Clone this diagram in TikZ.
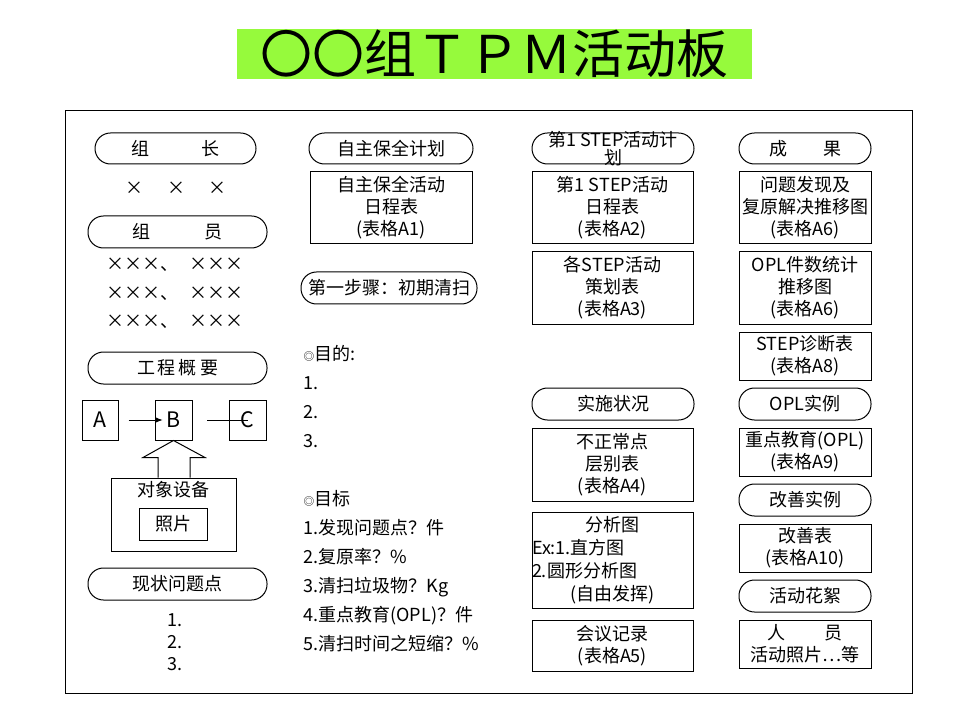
\documentclass[tikz,border=0pt]{standalone}
\usepackage{fontspec}
\usepackage{xcolor}
\usepackage{tikz}
\usetikzlibrary{arrows.meta, calc}
\newfontfamily\cjk{Noto Sans CJK SC}
\definecolor{boardgreen}{RGB}{150,250,60}

\begin{document}
\begin{tikzpicture}[x=0.75pt, y=-0.75pt, line width=0.75pt,
  every node/.style={font=\cjk\fontsize{13.5}{16.5}\selectfont, align=center},
  bw/.style={minimum width=#1*0.75pt}, bh/.style={minimum height=#1*0.75pt},
  pill/.style={draw, rounded corners=11.6pt, inner sep=0pt},
  sheet/.style={draw, inner sep=0pt}]
\useasboundingbox (0,0) rectangle (960,720);
\node[fill=boardgreen, bw=515, bh=50, inner sep=0pt, font=\cjk\fontsize{39}{42}\selectfont] (title) at (494.5,54) {〇〇组ＴＰＭ活动板};
\draw (65,111) rectangle (912,693);
% left column
\node[pill, bw=161, bh=31] (lead) at (175.5,148.5) {组\hspace{2.9em}长};
\node (leadname) at (176,188) {×\hspace{1.3em}×\hspace{1.3em}×};
\node[pill, bw=179, bh=32] (crew) at (177.5,232) {组\hspace{3em}员};
\foreach \i/\y in {1/265,2/294,3/322} {\node (crew\i) at (175,\y) {×××、\hspace{0.6em}×××};}
\node[pill, bw=179, bh=32] (proc) at (177.5,368) {工\,程\,概\,要};
\node[sheet, bw=36, bh=40] (A) at (100,420) {\fontsize{16}{18}\selectfont A};
\node[sheet, bw=37, bh=40] (B) at (173.5,420) {\fontsize{16}{18}\selectfont B};
\node[sheet, bw=37, bh=40] (C) at (247.5,420) {\fontsize{16}{18}\selectfont C};
\draw[-{Latex[length=5pt]}, shorten <=7.5pt, shorten >=8pt] (A.east) -- (B.center);
\draw[shorten <=11pt] (B.east) -- (C.center);
\node[sheet, bw=125, bh=73] (equip) at (173.5,514.5) {};
\node[anchor=north, inner sep=0pt] (equiptxt) at ($(equip.north)+(0,3)$) {对象设备};
\node[sheet, bw=68, bh=32] (photo) at (173,524) {照片};
\draw[fill=white] ($(equip.north)+(-15.5,0)$) -- ++(0,-20) -- ++(-15,0) -- (B.south) -- ($(equip.north)+(31.5,-20)$) -- ++(-15,0) -- ++(0,20);
\node[pill, bw=179, bh=32] (issue) at (177.5,584) {现状问题点};
\node[align=left, font=\cjk\fontsize{13.5}{16.5}\selectfont] (issuelist) at (175,642) {1.\\2.\\3.};
% second column
\node[pill, bw=164, bh=31] (selfplan) at (391,148.5) {自主保全计划};
\node[sheet, bw=162, bh=72] (tabA1) at (391,208) {自主保全活动\\日程表\\(表格A1)};
\node[pill, bw=176, bh=32] (step1) at (389,288) {第一步骤：初期清扫};
\node[anchor=north west, align=left, inner sep=0pt, font=\cjk\fontsize{13.5}{21.75}\selectfont] (goals) at (303,345)
  {{\fontsize{8}{8}\selectfont ◎}目的:\\1.\\2.\\3.\\[21.75pt]{\fontsize{8}{8}\selectfont ◎}目标\\1.发现问题点？件\\2.复原率？\%\\3.清扫垃圾物？Kg\\4.重点教育(OPL)？件\\5.清扫时间之短缩？\%};
% third column
\node[pill, bw=162, bh=31] (stepplan) at (613,148.5) {};
\node[font=\cjk\fontsize{13.5}{14}\selectfont] (stepplantxt) at (613,148.5) {第1 STEP活动计\\划};
\node[sheet, bw=161, bh=72] (tabA2) at (612.5,208) {第1 STEP活动\\日程表\\(表格A2)};
\node[sheet, bw=161, bh=72] (tabA3) at (612.5,288) {各STEP活动\\策划表\\(表格A3)};
\node[pill, bw=162, bh=32] (status) at (613,404) {实施状况};
\node[sheet, bw=161, bh=73] (tabA4) at (612.5,464.5) {不正常点\\层别表\\(表格A4)};
\node[sheet, bw=161, bh=96, text width=161*0.75pt, align=left, font=\cjk\fontsize{13.5}{17.25}\selectfont] (chart) at (612.5,560)
  {\makebox[\linewidth]{分析图}\\Ex:1.直方图\\2.圆形分析图\\\makebox[\linewidth]{(自由发挥)}};
\node[sheet, bw=161, bh=51] (tabA5) at (612.5,645.5) {会议记录\\(表格A5)};
% right column
\node[pill, bw=132, bh=31] (result) at (805,148.5) {成\hspace{2em}果};
\node[sheet, bw=132, bh=72] (tabA6) at (805,208) {问题发现及\\复原解决推移图\\(表格A6)};
\node[sheet, bw=132, bh=72] (tabA7) at (805,288) {OPL件数统计\\推移图\\(表格A6)};
\node[sheet, bw=132, bh=48] (tabA8) at (805,356) {STEP诊断表\\(表格A8)};
\node[pill, bw=132, bh=32] (opl) at (805,404) {OPL实例};
\node[sheet, bw=132, bh=48] (tabA9) at (805,452) {重点教育(OPL)\\(表格A9)};
\node[pill, bw=132, bh=32] (kaizen) at (805,500) {改善实例};
\node[sheet, bw=132, bh=48] (tabA10) at (805,548) {改善表\\(表格A10)};
\node[pill, bw=132, bh=32] (snaps) at (805,596) {活动花絮};
\node[sheet, bw=132, bh=48] (people) at (805,644) {人\hspace{2.2em}员\\活动照片…等};
\end{tikzpicture}
\end{document}
